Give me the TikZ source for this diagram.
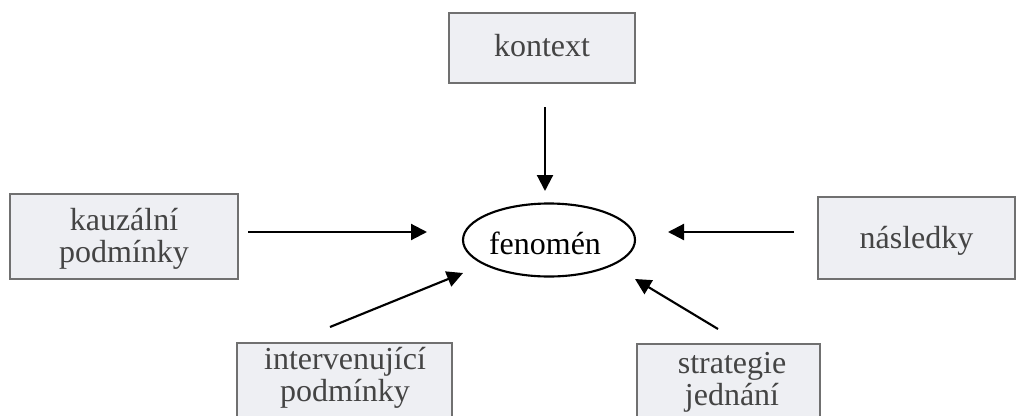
\documentclass[tikz,border=0pt]{standalone}
\usepackage{fontspec}
\setmainfont{Liberation Serif}
\usetikzlibrary{arrows.meta,shapes.geometric}
\definecolor{boxfill}{HTML}{EEEFF3}
\definecolor{boxline}{HTML}{707070}
\definecolor{boxtext}{HTML}{444444}
\begin{document}
\begin{tikzpicture}[x=0.75pt,y=-0.75pt,
  box/.style={draw=boxline,line width=1.2pt,fill=boxfill,rectangle,inner sep=0pt},
  boxlabel/.style={text=boxtext,font=\fontsize{24}{24}\selectfont,align=center,inner sep=0pt},
  conn/.style={line width=1.6pt,-{Triangle[length=12pt,width=12pt]}}]
\clip (0,0) rectangle (1022,415);
\fill[white] (0,0) rectangle (1022,415);
% boxes
\node[box,minimum width=186*0.75pt,minimum height=70*0.75pt] (kontextbox) at (542,48) {};
\node[boxlabel] (kontext) at (542,46) {kontext};
\node[box,minimum width=228*0.75pt,minimum height=85*0.75pt] (kauzbox) at (124,236.5) {};
\node[boxlabel] (kauz) at (124,238.5) {kauzální\\podmínky};
\node[box,minimum width=197*0.75pt,minimum height=82*0.75pt] (nasbox) at (916.5,238) {};
\node[boxlabel] (nas) at (916.5,240.5) {následky};
\node[box,minimum width=215*0.75pt,minimum height=100*0.75pt] (intbox) at (344.5,393) {};
\node[boxlabel] (int) at (345,378) {intervenující\\podmínky};
\node[box,minimum width=183*0.75pt,minimum height=100*0.75pt] (strbox) at (728.5,394) {};
\node[boxlabel] (str) at (732,382) {strategie\\jednání};
% ellipse
\node[draw,ellipse,line width=1.6pt,minimum width=172*0.75pt,minimum height=73*0.75pt,inner sep=0pt] (fen) at (549,240) {};
\node[font=\fontsize{24}{24}\selectfont,inner sep=0pt] (fentxt) at (545,243) {fenomén};
% connector ends
\coordinate (a1) at (545,107); \coordinate (b1) at (545,191);
\coordinate (a2) at (248,232); \coordinate (b2) at (427,232);
\coordinate (a3) at (794,232); \coordinate (b3) at (668,232);
\coordinate (a4) at (330,327); \coordinate (b4) at (463,273);
\coordinate (a5) at (718,329); \coordinate (b5) at (635,279);
\draw[conn] (a1) -- (b1);
\draw[conn] (a2) -- (b2);
\draw[conn] (a3) -- (b3);
\draw[conn] (a4) -- (b4);
\draw[conn] (a5) -- (b5);
\end{tikzpicture}
\end{document}
